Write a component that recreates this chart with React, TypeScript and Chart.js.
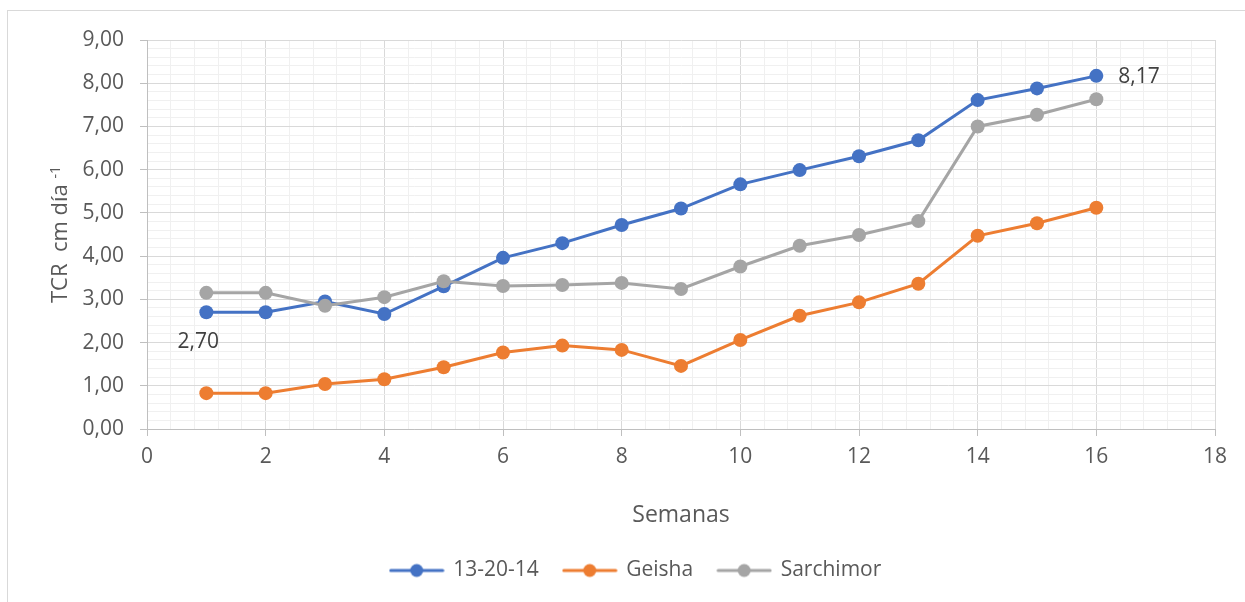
import { useEffect, useRef } from "react";
import { Chart, registerables } from "chart.js";

Chart.register(...registerables);

const weeks = [1, 2, 3, 4, 5, 6, 7, 8, 9, 10, 11, 12, 13, 14, 15, 16];
const seriesNames = ["13-20-14", "Geisha", "Sarchimor"];
const seriesColors = ["#4472C4", "#ED7D31", "#A5A5A5"];
const values1320 = [2.7, 2.7, 2.95, 2.66, 3.3, 3.96, 4.3, 4.72, 5.1, 5.66, 5.99, 6.31, 6.68, 7.61, 7.88, 8.17];
const valuesGeisha = [0.83, 0.83, 1.04, 1.15, 1.43, 1.77, 1.93, 1.83, 1.46, 2.06, 2.62, 2.93, 3.36, 4.47, 4.76, 5.12];
const valuesSarchimor = [3.15, 3.15, 2.85, 3.05, 3.42, 3.31, 3.33, 3.38, 3.24, 3.76, 4.24, 4.49, 4.81, 7.0, 7.27, 7.63];
const xTitle = "Semanas";
const yTitleMain = "TCR  cm día ";
const yTitleSup = "-1";
const labeledPoints = [0, 15];

const FONT = "'Open Sans', sans-serif";
const TEXT = "#595959";

const near = (v: number, step: number) => Math.abs(v / step - Math.round(v / step)) < 1e-6;
const fmt = (v: number) => v.toFixed(2).replace(".", ",");

function legendImage(color: string) {
  const c = document.createElement("canvas");
  c.width = 56;
  c.height = 16;
  const g = c.getContext("2d")!;
  g.strokeStyle = color;
  g.lineWidth = 3;
  g.lineCap = "round";
  g.beginPath();
  g.moveTo(2, 8);
  g.lineTo(54, 8);
  g.stroke();
  g.fillStyle = color;
  g.beginPath();
  g.arc(28, 8, 6.5, 0, Math.PI * 2);
  g.fill();
  return c;
}

const framePlugin = {
  id: "frame",
  beforeDraw(chart: any) {
    const { ctx } = chart;
    ctx.save();
    ctx.fillStyle = "#ffffff";
    ctx.fillRect(0, 0, chart.width, chart.height);
    ctx.strokeStyle = "#d9d9d9";
    ctx.lineWidth = 1;
    ctx.strokeRect(7.5, 10.5, 1600, 900);
    ctx.restore();
  },
};

const yTitlePlugin = {
  id: "yTitle",
  afterDraw(chart: any) {
    const { ctx, chartArea } = chart;
    const cy = (chartArea.top + chartArea.bottom) / 2;
    ctx.save();
    ctx.translate(67, cy);
    ctx.rotate(-Math.PI / 2);
    ctx.fillStyle = TEXT;
    ctx.textBaseline = "alphabetic";
    ctx.textAlign = "left";
    ctx.font = `22px ${FONT}`;
    const w1 = ctx.measureText(yTitleMain).width;
    ctx.font = `14px ${FONT}`;
    const w2 = ctx.measureText(yTitleSup).width;
    const start = -(w1 + w2) / 2;
    ctx.font = `22px ${FONT}`;
    ctx.fillText(yTitleMain, start, 0);
    ctx.font = `14px ${FONT}`;
    ctx.fillText(yTitleSup, start + w1, -7);
    ctx.restore();
  },
};

const dataLabelPlugin = {
  id: "dataLabels",
  afterDatasetsDraw(chart: any) {
    const { ctx } = chart;
    const meta = chart.getDatasetMeta(0);
    ctx.save();
    ctx.font = `21px ${FONT}`;
    ctx.fillStyle = "#404040";
    ctx.textBaseline = "middle";
    const first = meta.data[labeledPoints[0]];
    ctx.textAlign = "center";
    ctx.fillText(fmt(values1320[labeledPoints[0]]), first.x - 8, first.y + 30);
    const last = meta.data[labeledPoints[1]];
    ctx.textAlign = "left";
    ctx.fillText(fmt(values1320[labeledPoints[1]]), last.x + 22, last.y + 1);
    ctx.restore();
  },
};

export default function App() {
  const ref = useRef<HTMLCanvasElement>(null);

  useEffect(() => {
    if (!ref.current) return;
    Chart.defaults.font.family = FONT;
    Chart.defaults.color = TEXT;
    const allValues = [values1320, valuesGeisha, valuesSarchimor];
    const orders = [2, 1, 0];
    const images = seriesColors.map(legendImage);
    const chart = new Chart(ref.current, {
      type: "line",
      data: {
        datasets: allValues.map((vals, i) => ({
          label: seriesNames[i],
          data: weeks.map((w, j) => ({ x: w, y: vals[j] })),
          borderColor: seriesColors[i],
          backgroundColor: seriesColors[i],
          borderWidth: 3,
          pointRadius: 7,
          pointHoverRadius: 7,
          pointBorderWidth: 0,
          pointBackgroundColor: seriesColors[i],
          tension: 0,
          order: orders[i],
        })),
      },
      options: {
        animation: false,
        responsive: false,
        events: [],
        layout: { padding: { left: 57, right: 30, top: 40, bottom: 11 } },
        scales: {
          x: {
            type: "linear",
            min: 0,
            max: 18,
            afterFit: (s: any) => {
              s.height = 106;
            },
            ticks: {
              stepSize: 0.4,
              autoSkip: false,
              maxRotation: 0,
              padding: 8,
              font: { size: 21 },
              color: TEXT,
              callback: (v: any) => (near(Number(v), 2) ? String(Math.round(Number(v))) : ""),
            },
            grid: {
              color: (c: any) => (c.tick && near(c.tick.value, 2) ? "#d9d9d9" : "#f0f0f0"),
              tickColor: (c: any) => (c.tick && near(c.tick.value, 2) ? "#bfbfbf" : "rgba(0,0,0,0)"),
              tickLength: 7,
              lineWidth: 1,
            },
            border: { color: "#bfbfbf", width: 1 },
            title: {
              display: true,
              text: xTitle,
              font: { size: 23 },
              color: TEXT,
              padding: { top: 0, bottom: 6 },
            },
          },
          y: {
            type: "linear",
            min: 0,
            max: 9,
            afterFit: (s: any) => {
              s.width = 90;
            },
            ticks: {
              stepSize: 0.2,
              autoSkip: false,
              padding: 16,
              font: { size: 21 },
              color: TEXT,
              callback: (v: any) => (near(Number(v), 1) ? fmt(Number(v)) : ""),
            },
            grid: {
              color: (c: any) => (c.tick && near(c.tick.value, 1) ? "#d9d9d9" : "#f0f0f0"),
              tickColor: (c: any) => (c.tick && near(c.tick.value, 1) ? "#bfbfbf" : "rgba(0,0,0,0)"),
              tickLength: 7,
              lineWidth: 1,
            },
            border: { color: "#bfbfbf", width: 1 },
          },
        },
        plugins: {
          tooltip: { enabled: false },
          legend: {
            display: true,
            position: "bottom",
            labels: {
              usePointStyle: true,
              pointStyleWidth: 52,
              padding: 25,
              color: TEXT,
              font: { size: 21 },
              generateLabels: (ch: any) => {
                const items = Chart.defaults.plugins.legend.labels.generateLabels(ch);
                items.sort((a: any, b: any) => a.datasetIndex - b.datasetIndex);
                return items.map((it: any) => ({ ...it, pointStyle: images[it.datasetIndex] }));
              },
            },
          },
        },
      },
      plugins: [framePlugin, yTitlePlugin, dataLabelPlugin],
    } as any);
    return () => chart.destroy();
  }, []);

  return (
    <div style={{ position: "absolute", left: 0, top: 0, width: 1245, height: 602 }}>
      <canvas ref={ref} width={1245} height={602} style={{ display: "block" }} />
    </div>
  );
}
